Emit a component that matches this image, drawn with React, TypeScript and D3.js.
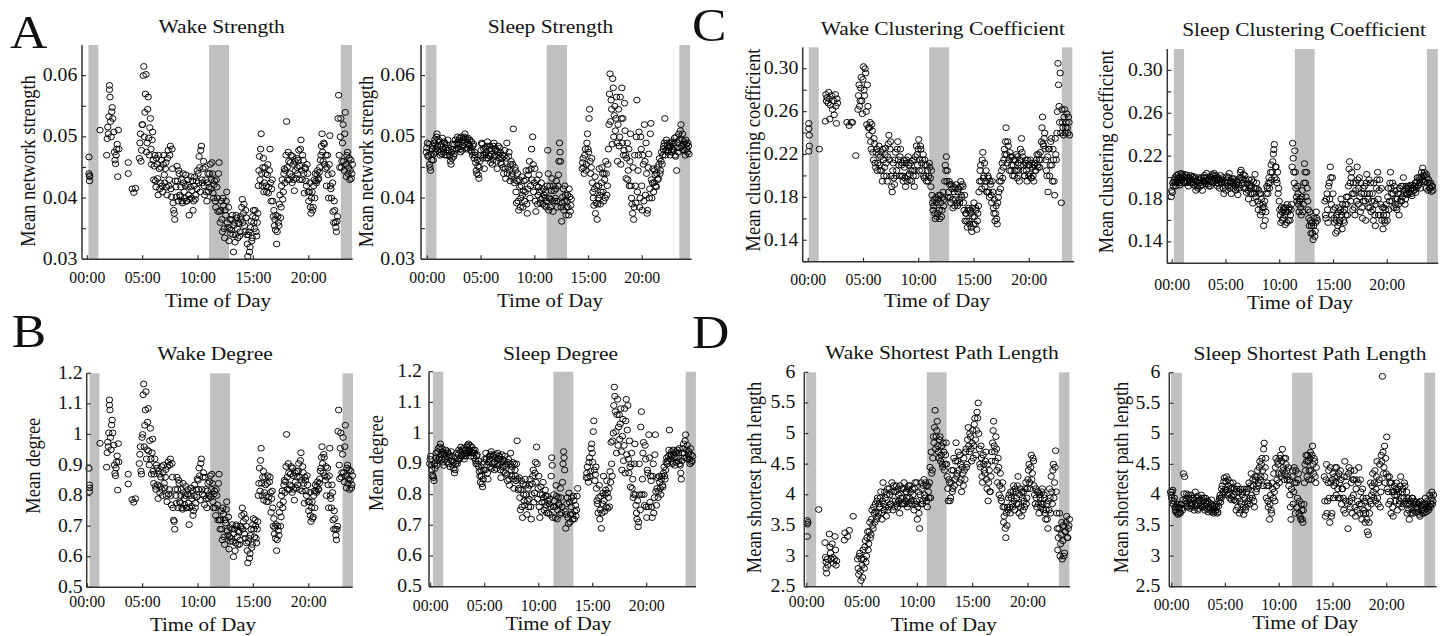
import React from "react";
import * as d3 from "d3";

// ---------- shared axis data ----------
const STEP = 0.1; // hours between consecutive samples of a dense series
const hourTicks = [0, 5, 10, 15, 20];
const hourTickLabels = ["00:00", "05:00", "10:00", "15:00", "20:00"];

const strengthTicks = [0.03, 0.035, 0.04, 0.045, 0.05, 0.055, 0.06];
const strengthTickLabels = ["0.03", "", "0.04", "", "0.05", "", "0.06"];
const clusterTicks = [0.12, 0.14, 0.16, 0.18, 0.2, 0.22, 0.24, 0.26, 0.28, 0.3];
const clusterTickLabels = ["", "0.14", "", "0.18", "", "0.22", "", "0.26", "", "0.30"];
const degreeTicks = [0.5, 0.6, 0.7, 0.8, 0.9, 1.0, 1.1, 1.2];
const degreeTickLabels = ["0.5", "0.6", "0.7", "0.8", "0.9", "1", "1.1", "1.2"];
const pathTicks = [2.5, 3, 3.5, 4, 4.5, 5, 5.5, 6];
const pathTickLabels = ["2.5", "3", "3.5", "4", "4.5", "5", "5.5", "6"];

// ---------- Wake Strength ----------
const wakeStrengthEarly: [number, number][] = [
  [0.15, 0.0467], [0.15, 0.044], [0.2, 0.0435], [0.2, 0.0428], [0.2, 0.0437],
  [1.15, 0.0511],
  [1.75, 0.047], [1.8, 0.0497], [1.85, 0.0516], [1.9, 0.0505], [1.95, 0.0533], [2.0, 0.0584], [2.0, 0.0577],
  [2.05, 0.0565], [2.1, 0.0525], [2.15, 0.05], [2.2, 0.0541], [2.25, 0.0548], [2.3, 0.053], [2.4, 0.0508],
  [2.45, 0.0475], [2.5, 0.0462], [2.55, 0.0456], [2.6, 0.047], [2.65, 0.048], [2.7, 0.0488], [2.75, 0.0435],
  [2.8, 0.0511], [2.85, 0.048],
  [3.7, 0.0458], [3.7, 0.044], [4.05, 0.0415], [4.2, 0.0409], [4.35, 0.0416],
];
const wakeStrengthStart = 4.7;
const wakeStrength = [
  .0465, .0505, .0478,
  .0520, .0615, .0540, .0602, .0490, .0565, .0470, .0530, .0455, .0508,
  .0430, .0470, .0418, .0455, .0405, .0448, .0425, .0462, .0410, .0470,
  .0425, .0458, .0405, .0478, .0430, .0485, .0402, .0448, .0380, .0365,
  .0418, .0452, .0395, .0440, .0402, .0430, .0392, .0425, .0400, .0438,
  .0395, .0430, .0372, .0418, .0400, .0428, .0395, .0435, .0405, .0415,
  .0440, .0468, .0410, .0485, .0425, .0460, .0405, .0430, .0395, .0440,
  .0418, .0455, .0430, .0440, .0400, .0428, .0385, .0418, .0378, .0458,
  .0360, .0395, .0345, .0388, .0335, .0372, .0410, .0352, .0330, .0365,
  .0348, .0372, .0312, .0360, .0340, .0368, .0335, .0358, .0345, .0365,
  .0398, .0375, .0355, .0380, .0340, .0305, .0345, .0320, .0362, .0335,
  .0380, .0350, .0368, .0338, .0375, .0445, .0430, .0505, .0420, .0465,
  .0425, .0440, .0410, .0455, .0418, .0480, .0395, .0430, .0370, .0355,
  .0348, .0325, .0370, .0355, .0405, .0385, .0430, .0410, .0448, .0445,
  .0525, .0430, .0460, .0440, .0470, .0425, .0455, .0412, .0445, .0465,
  .0440, .0478, .0452, .0495, .0430, .0462, .0408, .0448, .0420, .0440,
  .0395, .0425, .0375, .0410, .0385, .0430, .0440, .0425, .0445, .0432,
  .0450, .0470, .0505, .0460, .0488, .0448, .0420, .0470, .0400, .0502,
  .0415, .0440, .0378, .0395, .0360, .0345, .0370, .0568, .0450, .0530,
  .0460, .0520, .0445, .0540, .0435, .0475, .0450, .0430, .0462, .0440,
];
const wakeStrengthStart2 = 4.75;
const wakeStrength2 = [
  .0490, .0460, .0520,
  .0600, .0500, .0570, .0475, .0545, .0498, .0515, .0480, .0495, .0462,
  .0452, .0428, .0465, .0432, .0470, .0415, .0450, .0420, .0455, .0438,
  .0448, .0418, .0465, .0420, .0470, .0415, .0480, .0392, .0375, .0428,
  .0402, .0428, .0445, .0405, .0418, .0395, .0440, .0410, .0420, .0395,
  .0422, .0405, .0398, .0435, .0412, .0380, .0420, .0398, .0428, .0445,
  .0425, .0450, .0478, .0430, .0448, .0420, .0450, .0410, .0425, .0410,
  .0440, .0415, .0458, .0408, .0422, .0395, .0430, .0400, .0440, .0378,
  .0380, .0365, .0400, .0350, .0380, .0395, .0360, .0385, .0350, .0342,
  .0365, .0340, .0355, .0328, .0372, .0350, .0360, .0338, .0370, .0385,
  .0360, .0390, .0345, .0368, .0325, .0340, .0312, .0352, .0330, .0370,
  .0360, .0380, .0345, .0360, .0420, .0468, .0480, .0440, .0450, .0410,
  .0450, .0420, .0438, .0408, .0445, .0425, .0415, .0395, .0380, .0365,
  .0372, .0345, .0360, .0390, .0368, .0420, .0398, .0440, .0425, .0470,
  .0450, .0475, .0430, .0458, .0435, .0468, .0430, .0460, .0432, .0450,
  .0462, .0430, .0480, .0445, .0470, .0440, .0450, .0428, .0455, .0410,
  .0410, .0385, .0400, .0380, .0420, .0400, .0428, .0438, .0430, .0442,
  .0462, .0485, .0475, .0490, .0455, .0470, .0450, .0438, .0455, .0420,
  .0400, .0425, .0360, .0380, .0352, .0362, .0530, .0470, .0500, .0450,
  .0490, .0460, .0505, .0455, .0470, .0440, .0465, .0445, .0432, .0455,
];

// ---------- Sleep Strength ----------
const sleepStrengthStart = -0.1;
const sleepStrength = [
  .0475, .0490, .0470, .0455, .0445, .0462, .0485, .0472, .0495, .0480,
  .0505, .0478, .0492, .0470, .0488, .0498, .0475, .0490, .0482, .0470,
  .0495, .0478, .0468, .0455, .0465, .0488, .0472, .0495, .0480, .0500,
  .0488, .0498, .0475, .0492, .0485, .0500, .0505, .0492, .0482, .0498,
  .0485, .0478, .0492, .0470, .0488, .0475, .0458, .0440, .0452, .0432,
  .0460, .0478, .0488, .0470, .0448, .0482, .0465, .0492, .0470, .0485,
  .0458, .0480, .0462, .0490, .0470, .0478, .0448, .0485, .0465, .0475,
  .0455, .0470, .0440, .0478, .0432, .0490, .0450, .0475, .0428, .0460,
  .0440, .0513, .0425, .0445, .0392, .0440, .0380, .0418, .0400, .0435,
  .0385, .0428, .0410, .0445, .0375, .0438, .0460, .0420, .0480, .0500,
  .0410, .0448, .0378, .0430, .0405, .0438, .0392, .0425, .0400, .0415,
  .0388, .0410, .0395, .0478, .0380, .0420, .0398, .0432, .0378, .0412,
  .0400, .0428, .0385, .0438, .0490, .0460, .0362, .0402, .0380, .0420,
  .0372, .0395, .0385, .0415, .0378, .0398, null, null, null, null,
  null, null, null, null, null, .0448, .0465, .0440, .0480, .0455,
  .0505, .0475, .0545, .0440, .0465, .0410, .0388, .0435, .0392, .0365,
  .0400, .0448, .0390, .0425, .0440, .0395, .0430, .0460, .0405, .0455,
  .0520, .0603, .0560, .0488, .0580, .0535, .0510, .0565, .0460, .0545,
  .0500, .0455, .0580, .0530, .0478, .0510, .0432, .0490, .0445, .0420,
  .0505, .0400, .0375, .0365, .0470, .0392, .0560, .0445, .0508, .0400,
  .0480, .0380, .0455, .0520, .0405, .0440, .0380, .0472, .0415, .0522,
  .0400, .0448, .0425, .0438, .0418, .0450, .0432, .0465, .0445, .0475,
  .0470, .0485, .0530, .0478, .0490, .0475, .0485, .0470, .0492, .0480,
  .0478, .0498, .0468, .0445, .0490, .0505, .0482, .0520, .0495, .0478,
  .0492, .0470, .0488, .0475, .0485,
];
const sleepStrengthStart2 = -0.05;
const sleepStrength2 = [
  .0482, .0468, .0488, .0450, .0472, .0480, .0462, .0490, .0475, .0500,
  .0485, .0495, .0475, .0485, .0472, .0480, .0492, .0470, .0488, .0478,
  .0482, .0470, .0460, .0475, .0480, .0468, .0488, .0478, .0490, .0482,
  .0495, .0480, .0500, .0478, .0495, .0490, .0498, .0480, .0495, .0488,
  .0495, .0482, .0475, .0485, .0465, .0470, .0445, .0462, .0438, .0450,
  .0470, .0490, .0465, .0480, .0470, .0475, .0485, .0465, .0480, .0468,
  .0472, .0455, .0485, .0468, .0480, .0460, .0475, .0470, .0482, .0458,
  .0465, .0450, .0468, .0448, .0465, .0440, .0468, .0445, .0455, .0435,
  .0455, .0430, .0450, .0410, .0428, .0395, .0430, .0385, .0420, .0405,
  .0412, .0395, .0430, .0390, .0415, .0445, .0400, .0448, .0430, .0455,
  .0425, .0395, .0420, .0390, .0418, .0410, .0398, .0412, .0390, .0405,
  .0400, .0385, .0420, .0440, .0400, .0385, .0412, .0395, .0420, .0395,
  .0415, .0395, .0420, .0460, .0475, .0385, .0392, .0415, .0395, .0405,
  .0385, .0405, .0372, .0402, .0388, null, null, null, null, null,
  null, null, null, null, null, .0458, .0450, .0470, .0445, .0490,
  .0480, .0530, .0460, .0450, .0425, .0400, .0415, .0375, .0420, .0390,
  .0420, .0405, .0410, .0450, .0410, .0440, .0400, .0440, .0420, .0480,
  .0570, .0525, .0545, .0595, .0500, .0550, .0530, .0490, .0520, .0485,
  .0565, .0530, .0490, .0470, .0555, .0470, .0465, .0430, .0480, .0460,
  .0420, .0390, .0450, .0385, .0420, .0500, .0410, .0470, .0385, .0500,
  .0420, .0470, .0395, .0460, .0490, .0375, .0450, .0400, .0505, .0430,
  .0425, .0410, .0445, .0420, .0440, .0430, .0455, .0440, .0460, .0455,
  .0480, .0490, .0470, .0495, .0482, .0478, .0490, .0485, .0475, .0488,
  .0490, .0470, .0500, .0482, .0475, .0495, .0510, .0485, .0505, .0488,
  .0478, .0495, .0480, .0490, .0472,
];

// ---------- Wake Clustering Coefficient ----------
const wakeClusterEarly: [number, number][] = [
  [0.05, 0.249], [0.05, 0.244], [0.1, 0.238], [0.1, 0.228], [0.05, 0.223],
  [1.0, 0.225],
  [1.55, 0.251], [1.6, 0.276], [1.65, 0.27], [1.7, 0.273], [1.8, 0.268], [1.85, 0.278], [1.9, 0.272],
  [1.95, 0.253], [2.0, 0.266], [2.1, 0.275], [2.2, 0.262], [2.3, 0.27], [2.35, 0.257], [2.45, 0.276],
  [2.5, 0.265], [2.55, 0.249], [2.6, 0.272], [2.65, 0.268],
  [3.5, 0.25], [3.7, 0.247], [3.9, 0.25], [4.0, 0.25], [4.3, 0.219],
];
const wakeClusterStart = 4.5;
const wakeCluster = [
  0.262, 0.285, 0.270, 0.292, 0.258, 0.302, 0.275, 0.296, 0.248, 0.265,
  0.238, 0.250, 0.225, 0.242, 0.215, 0.230, 0.208, 0.225, 0.212, 0.228,
  0.205, 0.222, 0.195, 0.215, 0.208, 0.226, 0.200, 0.218, 0.238, 0.225,
  0.200, 0.185, 0.212, 0.192, 0.222, 0.205, 0.232, 0.210, 0.218, 0.200,
  0.212, 0.195, 0.208, 0.190, 0.215, 0.200, 0.210, 0.196, 0.205, 0.214,
  0.200, 0.190, 0.218, 0.228, 0.210, 0.234, 0.215, 0.225, 0.205, 0.220,
  0.198, 0.210, 0.195, 0.205, 0.200, 0.208, 0.190, 0.182, 0.168, 0.178,
  0.160, 0.175, 0.165, 0.182, 0.160, 0.175, 0.168, 0.185, 0.178, 0.210,
  0.218, 0.205, 0.185, 0.192, 0.175, 0.188, 0.170, 0.185, 0.178, 0.192,
  0.172, 0.188, 0.175, 0.195, 0.180, 0.190, 0.168, 0.158, 0.165, 0.152,
  0.170, 0.155, 0.165, 0.148, 0.162, 0.175, 0.155, 0.168, 0.158, 0.172,
  0.195, 0.210, 0.188, 0.222, 0.200, 0.190, 0.205, 0.185, 0.198, 0.180,
  0.192, 0.175, 0.185, 0.165, 0.158, 0.172, 0.155, 0.180, 0.195, 0.188,
  0.205, 0.198, 0.215, 0.220, 0.245, 0.212, 0.228, 0.205, 0.218, 0.210,
  0.200, 0.215, 0.205, 0.220, 0.198, 0.212, 0.195, 0.225, 0.235, 0.218,
  0.210, 0.200, 0.215, 0.195, 0.210, 0.202, 0.215, 0.198, 0.208, 0.195,
  0.212, 0.205, 0.220, 0.208, 0.215, 0.222, 0.232, 0.255, 0.228, 0.240,
  0.215, 0.200, 0.185, 0.225, 0.210, 0.235, 0.195, 0.215, 0.182, 0.220,
  0.240, 0.305, 0.265, 0.296, 0.175, 0.250, 0.238, 0.262, 0.245, 0.258,
  0.240, 0.250,
];
const wakeClusterStart2 = 4.55;
const wakeCluster2 = [
  0.275, 0.265, 0.282, 0.270, 0.290, 0.280, 0.300, 0.260, 0.285, 0.245,
  0.245, 0.232, 0.248, 0.222, 0.235, 0.212, 0.222, 0.205, 0.220, 0.210,
  0.218, 0.205, 0.225, 0.200, 0.220, 0.212, 0.195, 0.230, 0.215, 0.232,
  0.190, 0.205, 0.198, 0.215, 0.200, 0.225, 0.215, 0.200, 0.225, 0.210,
  0.200, 0.215, 0.198, 0.212, 0.195, 0.218, 0.202, 0.212, 0.195, 0.205,
  0.215, 0.205, 0.200, 0.220, 0.225, 0.205, 0.228, 0.212, 0.215, 0.200,
  0.215, 0.200, 0.210, 0.195, 0.212, 0.198, 0.205, 0.175, 0.172, 0.165,
  0.180, 0.162, 0.178, 0.168, 0.182, 0.162, 0.180, 0.172, 0.195, 0.205,
  0.195, 0.180, 0.195, 0.180, 0.192, 0.178, 0.190, 0.172, 0.188, 0.175,
  0.185, 0.178, 0.190, 0.182, 0.192, 0.175, 0.182, 0.165, 0.158, 0.168,
  0.158, 0.168, 0.152, 0.170, 0.155, 0.162, 0.170, 0.150, 0.165, 0.185,
  0.205, 0.195, 0.215, 0.198, 0.212, 0.195, 0.185, 0.200, 0.185, 0.195,
  0.182, 0.195, 0.170, 0.178, 0.165, 0.160, 0.175, 0.185, 0.200, 0.195,
  0.212, 0.208, 0.225, 0.232, 0.220, 0.232, 0.215, 0.222, 0.205, 0.218,
  0.210, 0.200, 0.215, 0.205, 0.218, 0.205, 0.215, 0.210, 0.222, 0.205,
  0.200, 0.212, 0.205, 0.215, 0.200, 0.210, 0.198, 0.212, 0.200, 0.210,
  0.205, 0.215, 0.210, 0.220, 0.208, 0.215, 0.245, 0.230, 0.235, 0.225,
  0.205, 0.218, 0.225, 0.200, 0.232, 0.210, 0.225, 0.195, 0.235, 0.215,
  0.260, 0.285, 0.250, 0.240, 0.262, 0.245, 0.255, 0.240, 0.250, 0.245,
  0.255, 0.238,
];

// ---------- Sleep Clustering Coefficient ----------
const sleepClusterStart = -0.1;
const sleepCluster = [
  0.182, 0.186, 0.192, 0.198, 0.195, 0.202, 0.196, 0.200, 0.193, 0.204,
  0.198, 0.201, 0.195, 0.203, 0.197, 0.200, 0.192, 0.198, 0.202, 0.195,
  0.200, 0.193, 0.199, 0.188, 0.196, 0.190, 0.198, 0.192, 0.200, 0.188,
  0.196, 0.202, 0.194, 0.204, 0.198, 0.192, 0.201, 0.196, 0.203, 0.198,
  0.204, 0.197, 0.200, 0.192, 0.198, 0.190, 0.202, 0.196, 0.200, 0.185,
  0.195, 0.188, 0.201, 0.192, 0.204, 0.196, 0.185, 0.199, 0.190, 0.197,
  0.188, 0.196, 0.184, 0.193, 0.200, 0.207, 0.195, 0.203, 0.190, 0.198,
  0.186, 0.195, 0.180, 0.192, 0.185, 0.198, 0.176, 0.190, 0.203, 0.182,
  0.190, 0.170, 0.185, 0.165, 0.180, 0.172, 0.155, 0.178, 0.168, 0.192,
  0.185, 0.200, 0.195, 0.212, 0.205, 0.222, 0.231, 0.210, 0.198, 0.205,
  0.190, 0.170, 0.158, 0.168, 0.162, 0.172, 0.156, 0.168, 0.175, 0.160,
  0.172, 0.165, 0.175, 0.232, 0.205, 0.225, 0.190, 0.178, 0.185, 0.168,
  0.180, 0.165, 0.188, 0.175, 0.213, 0.195, 0.205, 0.178, 0.162, 0.168,
  0.148, 0.158, 0.142, 0.162, 0.150, 0.168, 0.160, null, null, null,
  null, null, null, 0.178, 0.162, 0.185, 0.158, 0.195, 0.210, 0.175,
  0.200, 0.170, 0.158, 0.148, 0.165, 0.155, 0.172, 0.160, 0.180, 0.152,
  0.168, 0.158, 0.175, 0.182, 0.165, 0.192, 0.215, 0.178, 0.205, 0.170,
  0.185, 0.165, 0.195, 0.210, 0.175, 0.200, 0.168, 0.185, 0.162, 0.178,
  0.192, 0.160, 0.203, 0.180, 0.198, 0.172, 0.168, 0.185, 0.160, 0.178,
  0.155, 0.190, 0.205, 0.165, 0.198, 0.175, 0.160, 0.152, 0.172, 0.158,
  0.175, 0.160, 0.190, 0.178, 0.205, 0.185, 0.195, 0.172, 0.188, 0.180,
  0.170, 0.185, 0.165, 0.178, 0.192, 0.182, 0.200, 0.185, 0.180, 0.190,
  0.184, 0.192, 0.186, 0.190, 0.183, 0.193, 0.188, 0.195, 0.190, 0.200,
  0.193, 0.198, 0.190, 0.205, 0.209, 0.196, 0.202, 0.190, 0.200, 0.188,
  0.195, 0.190, 0.187, 0.192,
];
const sleepClusterStart2 = -0.05;
const sleepCluster2 = [
  0.188, 0.195, 0.196, 0.200, 0.192, 0.198, 0.203, 0.195, 0.200, 0.197,
  0.203, 0.196, 0.200, 0.195, 0.202, 0.196, 0.200, 0.195, 0.198, 0.201,
  0.195, 0.201, 0.192, 0.197, 0.192, 0.200, 0.195, 0.198, 0.193, 0.197,
  0.200, 0.196, 0.200, 0.197, 0.194, 0.199, 0.192, 0.200, 0.195, 0.202,
  0.199, 0.202, 0.195, 0.200, 0.194, 0.198, 0.195, 0.198, 0.190, 0.196,
  0.192, 0.198, 0.195, 0.200, 0.190, 0.197, 0.192, 0.195, 0.199, 0.192,
  0.193, 0.190, 0.198, 0.190, 0.205, 0.200, 0.198, 0.195, 0.202, 0.190,
  0.194, 0.188, 0.198, 0.190, 0.192, 0.185, 0.196, 0.185, 0.190, 0.195,
  0.178, 0.188, 0.175, 0.185, 0.168, 0.175, 0.172, 0.160, 0.185, 0.190,
  0.195, 0.190, 0.205, 0.198, 0.215, 0.226, 0.200, 0.210, 0.195, 0.185,
  0.178, 0.165, 0.172, 0.160, 0.170, 0.165, 0.172, 0.158, 0.168, 0.170,
  0.160, 0.170, 0.210, 0.218, 0.195, 0.205, 0.182, 0.192, 0.175, 0.178,
  0.172, 0.182, 0.168, 0.195, 0.205, 0.182, 0.190, 0.170, 0.155, 0.160,
  0.155, 0.148, 0.155, 0.145, 0.158, 0.162, null, null, null, null,
  null, null, null, 0.165, 0.180, 0.170, 0.192, 0.180, 0.200, 0.165,
  0.185, 0.162, 0.172, 0.160, 0.150, 0.168, 0.158, 0.170, 0.165, 0.175,
  0.160, 0.170, 0.165, 0.175, 0.182, 0.208, 0.195, 0.200, 0.185, 0.195,
  0.172, 0.188, 0.178, 0.198, 0.190, 0.182, 0.195, 0.172, 0.190, 0.185,
  0.178, 0.195, 0.185, 0.172, 0.185, 0.195, 0.178, 0.170, 0.195, 0.165,
  0.175, 0.198, 0.180, 0.188, 0.165, 0.190, 0.172, 0.165, 0.160, 0.170,
  0.165, 0.182, 0.170, 0.195, 0.190, 0.178, 0.185, 0.192, 0.175, 0.172,
  0.180, 0.175, 0.190, 0.185, 0.178, 0.192, 0.188, 0.175, 0.192, 0.185,
  0.190, 0.186, 0.193, 0.185, 0.190, 0.188, 0.192, 0.186, 0.196, 0.192,
  0.200, 0.195, 0.200, 0.198, 0.202, 0.205, 0.196, 0.203, 0.195, 0.198,
  0.190, 0.195, 0.192, 0.188,
];

// ---------- Wake Degree ----------
const wakeDegreeEarly: [number, number][] = [
  [0.15, 0.889], [0.2, 0.835], [0.2, 0.825], [0.2, 0.813],
  [1.15, 0.971],
  [1.75, 0.893], [1.8, 0.94], [1.85, 0.975], [1.9, 0.96], [1.95, 1.005], [2.0, 1.113], [2.0, 1.096],
  [2.05, 1.08], [2.1, 0.99], [2.15, 0.95], [2.2, 1.031], [2.25, 1.047], [2.3, 1.005], [2.4, 0.965],
  [2.45, 0.9], [2.5, 0.873], [2.55, 0.865], [2.6, 0.89], [2.65, 0.91], [2.7, 0.93], [2.75, 0.818],
  [2.8, 0.97], [2.85, 0.91],
  [3.7, 0.87], [3.7, 0.838], [4.05, 0.787], [4.2, 0.778], [4.35, 0.79],
];
const wakeDegreeStart = 4.7;
const wakeDegree = [
  0.905, 0.960, 0.870,
  1.000, 1.165, 1.030, 1.140, 0.950, 1.085, 0.900, 1.020, 0.870, 0.985,
  0.840, 0.920, 0.820, 0.890, 0.790, 0.870, 0.830, 0.895, 0.800, 0.900,
  0.825, 0.885, 0.780, 0.910, 0.820, 0.920, 0.770, 0.860, 0.720, 0.690,
  0.800, 0.860, 0.760, 0.840, 0.775, 0.820, 0.755, 0.810, 0.770, 0.830,
  0.760, 0.820, 0.705, 0.800, 0.765, 0.815, 0.750, 0.835, 0.775, 0.795,
  0.850, 0.890, 0.785, 0.920, 0.805, 0.875, 0.770, 0.820, 0.760, 0.840,
  0.800, 0.865, 0.820, 0.840, 0.760, 0.815, 0.735, 0.800, 0.720, 0.870,
  0.690, 0.750, 0.655, 0.740, 0.640, 0.710, 0.780, 0.670, 0.625, 0.695,
  0.660, 0.705, 0.600, 0.690, 0.645, 0.700, 0.640, 0.680, 0.655, 0.695,
  0.760, 0.715, 0.675, 0.725, 0.645, 0.580, 0.660, 0.610, 0.690, 0.640,
  0.725, 0.665, 0.700, 0.645, 0.715, 0.840, 0.815, 0.955, 0.800, 0.880,
  0.810, 0.835, 0.780, 0.865, 0.795, 0.860, 0.745, 0.815, 0.700, 0.675,
  0.660, 0.620, 0.700, 0.670, 0.770, 0.730, 0.815, 0.780, 0.850, 0.845,
  1.000, 0.820, 0.875, 0.835, 0.895, 0.810, 0.865, 0.785, 0.845, 0.880,
  0.835, 0.905, 0.860, 0.940, 0.815, 0.875, 0.775, 0.850, 0.800, 0.835,
  0.750, 0.810, 0.715, 0.780, 0.730, 0.815, 0.835, 0.810, 0.845, 0.820,
  0.855, 0.890, 0.960, 0.875, 0.925, 0.850, 0.800, 0.890, 0.760, 0.955,
  0.790, 0.835, 0.720, 0.750, 0.690, 0.655, 0.700, 1.080, 0.855, 1.005,
  0.875, 0.990, 0.845, 1.030, 0.825, 0.900, 0.855, 0.820, 0.880, 0.835,
];
const wakeDegreeStart2 = 4.75;
const wakeDegree2 = [
  0.935, 0.880, 0.990,
  1.130, 0.960, 1.080, 0.920, 1.040, 0.945, 0.980, 0.920, 0.940, 0.880,
  0.870, 0.830, 0.900, 0.835, 0.880, 0.810, 0.860, 0.820, 0.875, 0.840,
  0.860, 0.800, 0.895, 0.805, 0.900, 0.800, 0.905, 0.760, 0.715, 0.820,
  0.775, 0.820, 0.850, 0.780, 0.800, 0.760, 0.840, 0.790, 0.800, 0.760,
  0.805, 0.775, 0.760, 0.825, 0.790, 0.735, 0.800, 0.760, 0.820, 0.855,
  0.820, 0.865, 0.905, 0.820, 0.860, 0.800, 0.860, 0.790, 0.815, 0.790,
  0.845, 0.795, 0.870, 0.780, 0.805, 0.760, 0.820, 0.770, 0.840, 0.720,
  0.720, 0.690, 0.760, 0.665, 0.720, 0.755, 0.685, 0.730, 0.665, 0.650,
  0.690, 0.650, 0.675, 0.620, 0.705, 0.665, 0.685, 0.640, 0.700, 0.735,
  0.690, 0.740, 0.660, 0.700, 0.620, 0.650, 0.595, 0.670, 0.630, 0.705,
  0.690, 0.720, 0.660, 0.690, 0.800, 0.890, 0.915, 0.840, 0.860, 0.785,
  0.860, 0.800, 0.840, 0.780, 0.845, 0.810, 0.790, 0.760, 0.725, 0.695,
  0.705, 0.655, 0.685, 0.745, 0.700, 0.800, 0.760, 0.835, 0.810, 0.895,
  0.860, 0.905, 0.820, 0.870, 0.830, 0.890, 0.820, 0.875, 0.825, 0.860,
  0.880, 0.820, 0.915, 0.850, 0.895, 0.840, 0.860, 0.815, 0.865, 0.780,
  0.780, 0.735, 0.760, 0.725, 0.800, 0.760, 0.815, 0.830, 0.820, 0.840,
  0.880, 0.925, 0.905, 0.935, 0.865, 0.895, 0.860, 0.835, 0.865, 0.800,
  0.760, 0.810, 0.690, 0.725, 0.670, 0.690, 1.010, 0.900, 0.955, 0.860,
  0.935, 0.875, 0.960, 0.865, 0.890, 0.840, 0.885, 0.850, 0.825, 0.865,
];

// ---------- Sleep Degree ----------
const sleepDegreeStart = -0.1;
const sleepDegree = [
  0.900, 0.925, 0.880, 0.860, 0.845, 0.885, 0.935, 0.910, 0.950, 0.920,
  0.965, 0.915, 0.940, 0.895, 0.930, 0.945, 0.905, 0.935, 0.920, 0.890,
  0.940, 0.910, 0.885, 0.870, 0.900, 0.935, 0.910, 0.945, 0.920, 0.955,
  0.930, 0.950, 0.915, 0.945, 0.935, 0.960, 0.965, 0.940, 0.925, 0.955,
  0.935, 0.920, 0.945, 0.900, 0.930, 0.910, 0.875, 0.840, 0.860, 0.825,
  0.880, 0.915, 0.935, 0.895, 0.850, 0.925, 0.890, 0.940, 0.900, 0.930,
  0.880, 0.920, 0.885, 0.935, 0.895, 0.915, 0.855, 0.930, 0.890, 0.910,
  0.870, 0.900, 0.845, 0.915, 0.830, 0.935, 0.860, 0.905, 0.820, 0.880,
  0.845, 0.975, 0.815, 0.855, 0.750, 0.845, 0.725, 0.800, 0.765, 0.830,
  0.735, 0.820, 0.785, 0.850, 0.720, 0.835, 0.880, 0.805, 0.905, 0.955,
  0.785, 0.860, 0.725, 0.825, 0.775, 0.840, 0.750, 0.815, 0.765, 0.795,
  0.740, 0.785, 0.760, 0.920, 0.725, 0.800, 0.760, 0.830, 0.720, 0.790,
  0.765, 0.820, 0.740, 0.840, 0.940, 0.880, 0.690, 0.770, 0.725, 0.805,
  0.710, 0.760, 0.735, 0.795, 0.720, 0.765, 0.750, 0.820, null, null,
  null, null, null, null, null, 0.855, 0.890, 0.840, 0.920, 0.875,
  0.965, 0.905, 1.040, 0.845, 0.890, 0.780, 0.740, 0.830, 0.750, 0.690,
  0.770, 0.860, 0.745, 0.815, 0.845, 0.755, 0.820, 0.875, 0.970, 0.860,
  1.000, 1.150, 1.070, 0.935, 1.110, 1.020, 0.980, 1.080, 0.880, 1.045,
  0.960, 0.870, 1.110, 1.010, 0.915, 0.975, 0.825, 0.935, 0.850, 0.800,
  0.965, 0.765, 0.720, 0.695, 0.900, 0.750, 1.070, 0.850, 0.970, 0.765,
  0.915, 0.725, 0.870, 0.995, 0.775, 0.845, 0.725, 0.900, 0.790, 0.995,
  0.765, 0.855, 0.810, 0.840, 0.800, 0.860, 0.825, 0.890, 0.850, 0.905,
  0.900, 0.925, 1.010, 0.915, 0.940, 0.905, 0.930, 0.895, 0.940, 0.920,
  0.910, 0.950, 0.895, 0.850, 0.935, 0.965, 0.920, 0.995, 0.945, 0.915,
  0.940, 0.900, 0.930, 0.910,
];
const sleepDegreeStart2 = -0.05;
const sleepDegree2 = [
  0.915, 0.895, 0.865, 0.855, 0.900, 0.920, 0.895, 0.940, 0.915, 0.955,
  0.930, 0.950, 0.905, 0.935, 0.915, 0.925, 0.940, 0.900, 0.930, 0.910,
  0.925, 0.895, 0.905, 0.880, 0.920, 0.900, 0.930, 0.915, 0.940, 0.925,
  0.945, 0.925, 0.935, 0.925, 0.955, 0.935, 0.945, 0.960, 0.940, 0.935,
  0.945, 0.935, 0.910, 0.925, 0.900, 0.890, 0.860, 0.880, 0.835, 0.850,
  0.905, 0.880, 0.915, 0.870, 0.905, 0.915, 0.930, 0.885, 0.925, 0.905,
  0.905, 0.930, 0.900, 0.915, 0.925, 0.880, 0.905, 0.915, 0.875, 0.925,
  0.895, 0.865, 0.905, 0.850, 0.900, 0.880, 0.890, 0.850, 0.900, 0.860,
  0.900, 0.850, 0.820, 0.790, 0.815, 0.760, 0.835, 0.780, 0.850, 0.800,
  0.780, 0.760, 0.830, 0.760, 0.800, 0.860, 0.775, 0.870, 0.840, 0.900,
  0.820, 0.760, 0.800, 0.745, 0.800, 0.790, 0.775, 0.795, 0.740, 0.780,
  0.770, 0.735, 0.860, 0.895, 0.760, 0.780, 0.725, 0.795, 0.750, 0.770,
  0.735, 0.790, 0.760, 0.900, 0.920, 0.745, 0.735, 0.790, 0.705, 0.775,
  0.735, 0.790, 0.720, 0.780, 0.745, 0.730, 0.795, null, null, null,
  null, null, null, null, null, 0.870, 0.855, 0.905, 0.860, 0.950,
  0.935, 1.005, 0.880, 0.865, 0.820, 0.770, 0.790, 0.720, 0.795, 0.740,
  0.805, 0.780, 0.800, 0.760, 0.805, 0.790, 0.760, 0.840, 0.900, 0.975,
  1.090, 1.120, 1.005, 1.060, 0.960, 1.060, 1.030, 0.940, 0.990, 0.910,
  1.080, 1.040, 0.930, 1.090, 0.870, 0.890, 0.900, 0.820, 0.790, 0.900,
  0.800, 0.740, 0.780, 0.710, 0.800, 1.020, 0.800, 0.935, 0.800, 0.960,
  0.760, 0.880, 0.760, 0.920, 0.860, 0.760, 0.860, 0.740, 0.930, 0.810,
  0.820, 0.790, 0.860, 0.820, 0.850, 0.830, 0.870, 0.860, 0.880, 0.920,
  0.910, 0.945, 0.930, 0.925, 0.900, 0.945, 0.920, 0.935, 0.905, 0.945,
  0.935, 0.900, 0.870, 0.910, 0.950, 0.935, 0.975, 0.920, 0.960, 0.930,
  0.915, 0.950, 0.905, 0.925,
];

// ---------- Wake Shortest Path Length ----------
const wakePathEarly: [number, number][] = [
  [0.05, 3.58], [0.05, 3.52], [0.1, 3.55], [0.05, 3.32],
  [1.08, 3.76],
  [1.65, 3.22], [1.7, 2.98], [1.75, 2.9], [1.75, 2.8], [1.8, 2.72], [1.85, 2.95], [1.9, 2.85],
  [2.05, 3.36], [2.1, 3.15], [2.15, 3.05], [2.2, 2.95], [2.3, 3.2], [2.35, 2.98], [2.4, 2.88],
  [2.5, 2.95], [2.55, 3.32], [2.6, 3.1], [2.65, 2.85], [2.7, 2.92],
  [3.4, 3.26], [3.45, 3.38], [3.7, 3.32], [3.85, 3.42], [4.2, 3.65],
];
const wakePathStart = 4.6;
const wakePath = [
  2.95, 2.70, 3.05, 2.60, 2.85, 3.10, 2.80, 3.25, 3.00, 3.40,
  3.20, 3.55, 3.35, 3.75, 3.45, 3.70, 3.85, 3.60, 3.95, 3.70,
  3.80, 4.05, 3.60, 4.20, 3.75, 3.95, 3.65, 4.10, 3.80, 4.00,
  3.85, 4.20, 3.75, 4.05, 3.90, 4.15, 3.80, 4.00, 3.70, 3.95,
  4.10, 3.85, 4.20, 3.90, 4.05, 3.80, 4.15, 3.95, 4.05, 3.85,
  4.00, 3.75, 4.20, 3.90, 3.60, 4.05, 3.45, 3.85, 4.10, 3.90,
  4.25, 3.95, 4.15, 3.80, 4.05, 4.20, 3.95, 4.35, 4.60, 4.85,
  5.38, 4.95, 5.20, 4.70, 4.90, 4.55, 4.80, 4.45, 4.70, 4.50,
  4.85, 4.30, 3.90, 4.20, 3.95, 4.40, 4.10, 4.60, 4.25, 4.85,
  4.35, 4.70, 4.20, 4.50, 4.05, 4.35, 4.60, 4.25, 4.75, 4.50,
  5.10, 4.70, 4.95, 4.55, 5.05, 4.80, 5.25, 4.65, 5.35, 5.50,
  4.75, 4.45, 4.60, 4.20, 4.50, 4.35, 4.70, 4.10, 3.90, 4.40,
  4.05, 4.55, 4.85, 5.20, 4.70, 4.95, 4.40, 4.60, 4.00, 4.35,
  3.90, 4.20, 3.55, 3.80, 3.30, 3.50, 3.75, 4.00, 3.70, 3.95,
  3.80, 4.15, 3.75, 4.05, 3.85, 4.30, 3.70, 4.10, 3.65, 3.95,
  4.05, 3.80, 4.20, 3.95, 4.25, 4.50, 4.10, 4.65, 4.35, 4.55,
  4.00, 4.10, 3.80, 4.05, 3.70, 3.95, 3.85, 4.10, 3.75, 3.95,
  3.60, 3.85, 3.45, 3.75, 3.95, 4.30, 3.85, 4.50, 4.20, 4.72,
  3.70, 3.10, 3.45, 3.00, 3.35, 2.95, 3.50, 3.05, 3.40, 3.65,
  3.30, 3.50,
];
const wakePathStart2 = 4.65;
const wakePath2 = [
  2.80, 3.00, 2.75, 2.95, 2.65, 2.95, 3.15, 2.90, 3.30, 3.10,
  3.40, 3.30, 3.60, 3.50, 3.80, 3.55, 3.72, 3.90, 3.65, 3.85,
  3.95, 3.70, 3.90, 3.85, 4.05, 3.80, 4.00, 3.75, 4.10, 3.85,
  4.05, 3.90, 4.15, 3.80, 4.05, 3.85, 4.10, 3.90, 4.15, 3.85,
  3.95, 4.10, 3.85, 4.05, 3.95, 4.10, 3.85, 4.15, 3.90, 4.10,
  3.90, 4.10, 3.85, 4.20, 3.80, 3.70, 4.00, 4.20, 3.85, 4.15,
  4.00, 4.20, 3.90, 4.15, 3.95, 4.45, 4.70, 4.40, 4.95, 5.10,
  4.75, 5.05, 4.80, 4.60, 4.95, 4.65, 4.50, 4.85, 4.40, 4.65,
  4.50, 4.10, 4.25, 3.90, 4.20, 4.05, 4.40, 4.15, 4.55, 4.30,
  4.55, 4.40, 4.65, 4.25, 4.45, 4.15, 4.40, 4.70, 4.45, 4.90,
  4.80, 5.00, 4.75, 4.85, 4.60, 5.15, 4.90, 5.05, 5.25, 5.00,
  4.50, 4.80, 4.30, 4.65, 4.40, 4.55, 4.25, 4.50, 4.20, 4.05,
  4.30, 4.70, 5.05, 4.80, 4.55, 4.75, 4.20, 4.45, 4.15, 3.95,
  4.10, 3.80, 3.65, 3.45, 3.70, 3.80, 3.95, 3.80, 4.05, 3.85,
  4.05, 3.90, 4.10, 3.95, 4.15, 3.85, 4.00, 3.80, 4.05, 3.75,
  3.90, 4.10, 3.85, 4.10, 4.40, 4.20, 4.45, 4.25, 4.60, 4.15,
  3.85, 3.95, 4.05, 3.85, 4.00, 3.80, 4.05, 3.85, 4.00, 3.70,
  3.75, 3.60, 3.90, 4.10, 3.70, 4.05, 4.40, 3.95, 4.45, 4.05,
  3.45, 3.30, 3.70, 3.20, 3.55, 3.25, 3.00, 3.40, 3.55, 3.30,
  3.45, 3.60,
];

// ---------- Sleep Shortest Path Length ----------
const sleepPathStart = -0.1;
const sleepPath = [
  4.05, 3.95, 4.08, 3.90, 3.80, 3.72, 3.85, 3.68, 3.78, 3.70,
  3.85, 3.75, 4.35, 4.30, 3.90, 4.02, 3.80, 3.95, 3.78, 4.00,
  3.85, 3.95, 3.75, 4.05, 3.82, 3.98, 3.78, 3.92, 3.85, 3.95,
  3.80, 3.95, 3.75, 3.90, 3.85, 3.72, 3.88, 3.78, 3.92, 3.75,
  3.70, 3.82, 3.75, 3.85, 3.72, 3.90, 4.00, 3.95, 4.15, 4.05,
  4.28, 4.10, 4.30, 4.00, 4.15, 3.95, 4.10, 3.98, 4.20, 3.92,
  4.05, 3.75, 4.15, 3.95, 3.70, 4.10, 3.85, 4.05, 3.68, 3.95,
  3.80, 4.10, 3.90, 4.20, 3.85, 4.35, 3.95, 4.15, 3.80, 4.25,
  4.10, 4.40, 4.20, 4.55, 4.30, 4.60, 4.15, 4.85, 4.45, 3.95,
  4.20, 3.80, 3.60, 4.00, 3.70, 4.10, 4.35, 3.90, 4.60, 4.25,
  4.50, 4.20, 4.65, 4.35, 4.75, 4.45, 4.25, 4.60, 4.40, 4.30,
  4.15, 4.00, 3.60, 4.30, 3.85, 4.45, 3.70, 4.20, 3.95, 4.35,
  3.90, 3.60, 3.75, 3.55, 3.85, 4.50, 4.65, 4.30, 4.55, 4.40,
  4.70, 4.25, 4.80, 4.35, 4.55, 4.20, null, null, null, null,
  null, null, null, 4.30, 3.65, 4.50, 3.90, 4.40, 3.55, 4.20,
  3.70, 4.35, 4.15, 4.45, 4.00, 4.30, 3.95, 4.20, 4.40, 3.85,
  4.10, 3.75, 4.55, 3.90, 4.30, 3.45, 4.45, 3.80, 4.20, 3.70,
  4.00, 4.40, 3.65, 4.25, 3.90, 4.45, 3.70, 4.05, 3.60, 3.95,
  3.75, 3.55, 3.95, 3.40, 3.35, 3.70, 4.20, 4.00, 4.35, 3.95,
  4.40, 4.10, 4.55, 3.85, 4.25, 3.80, 4.65, 5.94, 4.35, 4.80,
  4.60, 4.95, 4.30, 3.85, 4.20, 3.70, 4.05, 3.65, 4.15, 3.90,
  4.20, 3.75, 4.05, 3.90, 4.30, 3.80, 4.10, 3.95, 4.15, 3.85,
  3.70, 3.95, 3.60, 3.90, 3.80, 3.95, 3.75, 3.90, 3.80, 3.85,
  3.72, 3.88, 3.65, 3.82, 3.70, 3.85, 3.75, 3.95, 3.80, 3.90,
  3.75, 4.00, 3.85, 4.05, 3.90,
];
const sleepPathStart2 = -0.05;
const sleepPath2 = [
  4.00, 4.05, 3.85, 3.95, 3.75, 3.80, 3.70, 3.80, 3.72, 3.85,
  3.78, 3.92, 4.02, 3.85, 3.95, 3.82, 4.00, 3.85, 3.92, 3.82,
  3.95, 3.80, 3.92, 3.85, 3.95, 3.75, 3.90, 3.82, 4.00, 3.80,
  3.90, 3.82, 3.95, 3.78, 3.90, 3.80, 3.75, 3.85, 3.72, 3.82,
  3.78, 3.72, 3.80, 3.70, 3.82, 3.95, 3.88, 4.10, 4.00, 4.22,
  4.05, 4.22, 4.08, 4.25, 4.02, 4.20, 3.92, 4.12, 4.00, 4.10,
  3.90, 4.10, 3.80, 4.05, 3.90, 3.75, 4.00, 3.80, 4.10, 3.75,
  4.05, 3.85, 4.10, 3.95, 4.15, 4.00, 4.25, 3.90, 4.30, 4.05,
  4.30, 4.15, 4.45, 4.25, 4.50, 4.40, 4.75, 4.30, 4.60, 4.15,
  3.90, 4.15, 3.85, 3.75, 4.20, 3.95, 4.05, 4.45, 4.15, 4.55,
  4.35, 4.60, 4.30, 4.55, 4.40, 4.60, 4.35, 4.50, 4.25, 4.45,
  4.25, 3.80, 4.10, 4.40, 4.05, 4.20, 4.40, 3.80, 4.25, 3.70,
  3.65, 3.85, 3.60, 3.75, 4.20, 4.40, 4.55, 4.65, 4.25, 4.60,
  4.40, 4.65, 4.50, 4.60, 4.30, 4.45, null, null, null, null,
  null, null, null, 3.90, 4.25, 3.70, 4.20, 3.95, 4.45, 3.65,
  4.25, 3.95, 4.30, 4.20, 4.45, 4.10, 4.35, 3.95, 4.25, 4.10,
  3.95, 4.30, 3.70, 4.15, 3.85, 4.35, 3.90, 4.40, 3.95, 4.25,
  4.25, 3.80, 4.10, 3.75, 4.20, 3.85, 4.25, 3.85, 4.10, 3.70,
  3.90, 3.70, 3.60, 3.80, 3.55, 3.90, 3.85, 4.15, 4.05, 4.20,
  3.90, 4.30, 3.95, 4.20, 4.50, 4.05, 4.55, 4.70, 4.45, 4.20,
  4.35, 4.10, 4.05, 4.30, 3.90, 4.20, 3.80, 4.05, 4.00, 4.10,
  4.00, 4.10, 3.85, 4.15, 3.95, 4.05, 3.85, 4.20, 3.90, 4.05,
  3.85, 3.75, 3.85, 3.70, 3.95, 3.70, 3.85, 3.72, 3.88, 3.78,
  3.85, 3.68, 3.90, 3.75, 3.80, 3.70, 3.85, 3.72, 3.85, 3.78,
  3.82, 3.80, 3.95, 3.85, 4.00,
];

// ---------- shaded periods (hours) ----------
const wakeStrengthBands: [number, number][] = [[0.1, 1.0], [11.0, 12.8], [22.9, 23.9]];
const sleepStrengthBands: [number, number][] = [[-0.15, 0.85], [11.1, 13.0], [23.45, 24.45]];
const wakeClusterBands: [number, number][] = [[0.05, 0.95], [10.95, 12.75], [22.95, 23.9]];
const sleepClusterBands: [number, number][] = [[0.15, 1.1], [11.4, 13.25], [23.7, 24.7]];
const wakeDegreeBands: [number, number][] = [[0.2, 1.1], [11.1, 12.9], [23.05, 24.0]];
const sleepDegreeBands: [number, number][] = [[0.2, 1.15], [11.35, 13.2], [23.6, 24.55]];
const wakePathBands: [number, number][] = [[-0.05, 0.85], [10.85, 12.65], [22.8, 23.75]];
const sleepPathBands: [number, number][] = [[-0.05, 0.95], [11.2, 13.1], [23.5, 24.5]];

// ---------- layout ----------
const FONT = "'Liberation Serif', 'Times New Roman', Times, serif";
const SX = 1.1;
const INK = "#111111";
const AXIS = "#333333";
const BAND = "#c0c0c0";

type Series = { start: number; values: (number | null)[] };
type PanelSpec = {
  title: string; yLabel: string;
  left: number; right: number; top: number; bottom: number;
  xDom: [number, number]; yDom: [number, number];
  yTicks: number[]; yTickLabels: string[];
  bands: [number, number][];
  series: Series[]; early: [number, number][];
  titleX: number; titleY: number; yLabelX: number; yLabelY: number;
  xLabelX: number; xLabelY: number; xTickDy: number; yTickGap: number;
};

const panels: PanelSpec[] = [
  { title: "Wake Strength", yLabel: "Mean network strength", left: 82, right: 352.7, top: 45, bottom: 259.3,
    xDom: [-0.48, 23.97], yDom: [0.03, 0.065], yTicks: strengthTicks, yTickLabels: strengthTickLabels,
    bands: wakeStrengthBands,
    series: [{ start: wakeStrengthStart, values: wakeStrength }, { start: wakeStrengthStart2, values: wakeStrength2 }],
    early: wakeStrengthEarly,
    titleX: 221.7, titleY: 33.3, yLabelX: 35, yLabelY: 161, xLabelX: 218, xLabelY: 306.5, xTickDy: 24, yTickGap: 4.7 },
  { title: "Sleep Strength", yLabel: "Mean network strength", left: 421, right: 691.7, top: 45, bottom: 259.3,
    xDom: [-0.59, 24.6], yDom: [0.03, 0.065], yTicks: strengthTicks, yTickLabels: strengthTickLabels,
    bands: sleepStrengthBands,
    series: [{ start: sleepStrengthStart, values: sleepStrength }, { start: sleepStrengthStart2, values: sleepStrength2 }],
    early: [],
    titleX: 550.5, titleY: 33.3, yLabelX: 373, yLabelY: 161.5, xLabelX: 550, xLabelY: 306.5, xTickDy: 24, yTickGap: 6 },
  { title: "Wake Clustering Coefficient", yLabel: "Mean clustering coefficient", left: 802.7, right: 1074, top: 47.3, bottom: 261.7,
    xDom: [-0.5, 24.05], yDom: [0.12, 0.32], yTicks: clusterTicks, yTickLabels: clusterTickLabels,
    bands: wakeClusterBands,
    series: [{ start: wakeClusterStart, values: wakeCluster }, { start: wakeClusterStart2, values: wakeCluster2 }],
    early: wakeClusterEarly,
    titleX: 942.8, titleY: 35, yLabelX: 760, yLabelY: 150, xLabelX: 937, xLabelY: 307, xTickDy: 23.3, yTickGap: 4.4 },
  { title: "Sleep Clustering Coefficient", yLabel: "Mean clustering coefficient", left: 1167.3, right: 1438.3, top: 49, bottom: 263.3,
    xDom: [-0.46, 24.75], yDom: [0.12, 0.32], yTicks: clusterTicks, yTickLabels: clusterTickLabels,
    bands: sleepClusterBands,
    series: [{ start: sleepClusterStart, values: sleepCluster }, { start: sleepClusterStart2, values: sleepCluster2 }],
    early: [],
    titleX: 1304, titleY: 36, yLabelX: 1113, yLabelY: 151.7, xLabelX: 1300, xLabelY: 309, xTickDy: 26.7, yTickGap: 4.6 },
  { title: "Wake Degree", yLabel: "Mean degree", left: 86.7, right: 352.7, top: 373.3, bottom: 587.3,
    xDom: [-0.05, 23.97], yDom: [0.5, 1.2], yTicks: degreeTicks, yTickLabels: degreeTickLabels,
    bands: wakeDegreeBands,
    series: [{ start: wakeDegreeStart, values: wakeDegree }, { start: wakeDegreeStart2, values: wakeDegree2 }],
    early: wakeDegreeEarly,
    titleX: 215, titleY: 360, yLabelX: 40, yLabelY: 465.7, xLabelX: 203, xLabelY: 631, xTickDy: 20, yTickGap: 4 },
  { title: "Sleep Degree", yLabel: "Mean degree", left: 429, right: 696, top: 371.7, bottom: 586.7,
    xDom: [-0.16, 24.56], yDom: [0.5, 1.2], yTicks: degreeTicks, yTickLabels: degreeTickLabels,
    bands: sleepDegreeBands,
    series: [{ start: sleepDegreeStart, values: sleepDegree }, { start: sleepDegreeStart2, values: sleepDegree2 }],
    early: [],
    titleX: 560.5, titleY: 360, yLabelX: 383, yLabelY: 463, xLabelX: 558.5, xLabelY: 630, xTickDy: 24, yTickGap: 7 },
  { title: "Wake Shortest Path Length", yLabel: "Mean shortest path length", left: 804.3, right: 1070, top: 372.3, bottom: 586.7,
    xDom: [-0.22, 23.8], yDom: [2.5, 6], yTicks: pathTicks, yTickLabels: pathTickLabels,
    bands: wakePathBands,
    series: [{ start: wakePathStart, values: wakePath }, { start: wakePathStart2, values: wakePath2 }],
    early: wakePathEarly,
    titleX: 942, titleY: 359.3, yLabelX: 761, yLabelY: 477.5, xLabelX: 943.7, xLabelY: 631, xTickDy: 20, yTickGap: 9 },
  { title: "Sleep Shortest Path Length", yLabel: "Mean shortest path length", left: 1169.3, right: 1436.7, top: 372.7, bottom: 586.7,
    xDom: [-0.22, 24.65], yDom: [2.5, 6], yTicks: pathTicks, yTickLabels: pathTickLabels,
    bands: sleepPathBands,
    series: [{ start: sleepPathStart, values: sleepPath }, { start: sleepPathStart2, values: sleepPath2 }],
    early: [],
    titleX: 1310, titleY: 360, yLabelX: 1128, yLabelY: 477.5, xLabelX: 1305.3, xLabelY: 629, xTickDy: 23, yTickGap: 9 },
];

const panelLetters = [
  { text: "A", x: 10, y: 48.3 },
  { text: "B", x: 11.7, y: 346.7 },
  { text: "C", x: 692, y: 40.5 },
  { text: "D", x: 692, y: 348 },
];

function Txt(props: { x: number; y: number; size: number; anchor?: string; rotate?: boolean; sx?: number; children: React.ReactNode }) {
  const { x, y, size, anchor = "middle", rotate = false, sx = SX, children } = props;
  const tr = `translate(${x},${y}) scale(${sx},1)` + (rotate ? " rotate(-90)" : "");
  return (
    <text transform={tr} fontSize={size} textAnchor={anchor as any} fontFamily={FONT} fill={INK}>
      {children}
    </text>
  );
}

function Panel({ p }: { p: PanelSpec }) {
  const x = d3.scaleLinear().domain(p.xDom).range([p.left, p.right]);
  const y = d3.scaleLinear().domain(p.yDom).range([p.bottom, p.top]);
  const pts: [number, number][] = [];
  p.early.forEach((d) => pts.push(d));
  p.series.forEach((s) => {
    s.values.forEach((v, i) => {
      if (v !== null && v !== undefined) pts.push([s.start + i * STEP, v]);
    });
  });
  return (
    <g>
      {p.bands.map((b, i) => (
        <rect key={"b" + i} x={x(b[0])} y={p.top} width={x(b[1]) - x(b[0])} height={p.bottom - p.top} fill={BAND} />
      ))}
      {pts.map((d, i) => (
        <ellipse key={"p" + i} cx={x(d[0])} cy={y(d[1])} rx={3.2} ry={2.9} fill="none" stroke="#000" strokeWidth={0.95} />
      ))}
      <line x1={p.left} x2={p.left} y1={p.top} y2={p.bottom} stroke={AXIS} strokeWidth={1.5} />
      <line x1={p.left} x2={p.right} y1={p.bottom} y2={p.bottom} stroke={AXIS} strokeWidth={1.5} />
      {p.yTicks.map((t, i) => (
        <g key={"yt" + i}>
          <line x1={p.left} x2={p.left + 4} y1={y(t)} y2={y(t)} stroke={AXIS} strokeWidth={1.2} />
          {p.yTickLabels[i] ? (
            <Txt x={p.left - p.yTickGap} y={y(t) + 5.5} size={18} anchor="end">{p.yTickLabels[i]}</Txt>
          ) : null}
        </g>
      ))}
      {hourTicks.map((h, i) => (
        <g key={"xt" + i}>
          <line x1={x(h)} x2={x(h)} y1={p.bottom} y2={p.bottom - 4} stroke={AXIS} strokeWidth={1.2} />
          <Txt x={x(h)} y={p.bottom + p.xTickDy} size={17} sx={0.93}>{hourTickLabels[i]}</Txt>
        </g>
      ))}
      <Txt x={p.titleX} y={p.titleY} size={19.5}>{p.title}</Txt>
      <Txt x={p.yLabelX} y={p.yLabelY} size={18.5} rotate>{p.yLabel}</Txt>
      <Txt x={p.xLabelX} y={p.xLabelY} size={19}>Time of Day</Txt>
    </g>
  );
}

export default function App() {
  return (
    <svg width={1445} height={636} viewBox="0 0 1445 636"
      style={{ position: "absolute", left: 0, top: 0, display: "block", background: "#ffffff" }}>
      <rect x={0} y={0} width={1445} height={636} fill="#ffffff" />
      {panels.map((p, i) => <Panel key={i} p={p} />)}
      {panelLetters.map((l) => (
        <Txt key={l.text} x={l.x} y={l.y} size={47} anchor="start">{l.text}</Txt>
      ))}
    </svg>
  );
}
